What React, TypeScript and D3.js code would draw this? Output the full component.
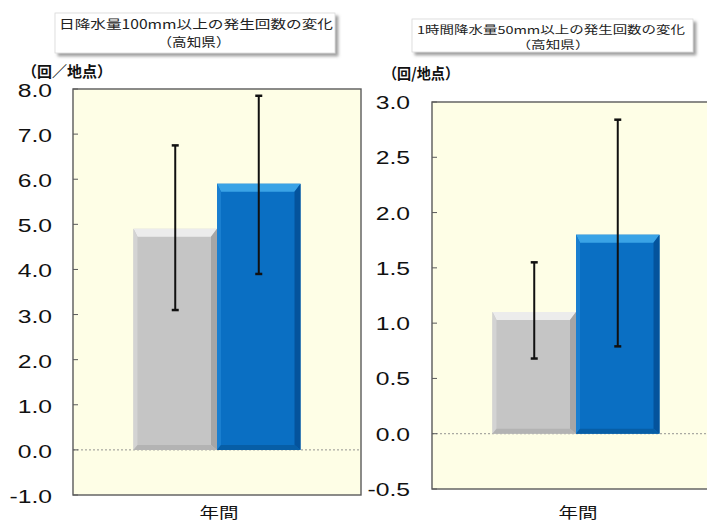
import React from 'react';
import * as d3 from 'd3';

const categories = ['年間'];
const seriesNames = ['期間A', '期間B'];

const dailyValues = [4.9, 5.9];
const dailyLow = [3.1, 3.9];
const dailyHigh = [6.75, 7.85];
const dailyTicks = [-1, 0, 1, 2, 3, 4, 5, 6, 7, 8];
const dailyTitle = ['日降水量100mm以上の発生回数の変化', '（高知県）'];
const dailyUnit = '（回／地点）';

const hourlyValues = [1.1, 1.8];
const hourlyLow = [0.68, 0.79];
const hourlyHigh = [1.55, 2.84];
const hourlyTicks = [-0.5, 0, 0.5, 1, 1.5, 2, 2.5, 3];
const hourlyTitle = ['1時間降水量50mm以上の発生回数の変化', '（高知県）'];
const hourlyUnit = '（回/地点）';

const palettes = [
  { main: '#c5c5c5', top: '#ececec', left: '#d3d3d3', right: '#a6a6a6', bottom: '#b3b3b3' },
  { main: '#0a6fc3', top: '#3aa3e6', left: '#1a7fd0', right: '#04539c', bottom: '#075ea6' },
];

const JP = '"Noto Sans CJK JP", "Noto Sans", sans-serif';
const NUM = '"Liberation Sans", Arial, sans-serif';

type PanelProps = {
  left: number; top: number; bottom: number; width: number;
  domain: [number, number]; ticks: number[];
  values: number[]; low: number[]; high: number[];
  title: string[]; box: { x: number; y: number; w: number; h: number };
  titleSize: number;
  t1: { x: number; y: number; len: number }; t2: { x: number; y: number; len: number };
  unit: string; unitPos: { x: number; y: number; len: number };
  labelRight: number; labelDy: number;
};

function Panel(p: PanelProps) {
  const y = d3.scaleLinear().domain(p.domain).range([p.bottom, p.top]);
  const x0 = d3.scaleBand().domain(categories).range([p.left, p.left + p.width]).paddingOuter(0.362).paddingInner(0);
  const x1 = d3.scaleBand().domain(seriesNames).range([0, x0.bandwidth()]);
  const cat = categories[0];
  const right = p.left + p.width;
  return (
    <g>
      <rect x={p.box.x} y={p.box.y} width={p.box.w} height={p.box.h} fill="#fff" stroke="#d8d8d8" strokeWidth={0.8} filter="url(#shadow)" />
      <text x={p.t1.x} y={p.t1.y} textAnchor="middle" fontFamily={JP} fontSize={p.titleSize} fill="#222" textLength={p.t1.len} lengthAdjust="spacingAndGlyphs">{p.title[0]}</text>
      <text x={p.t2.x} y={p.t2.y} textAnchor="middle" fontFamily={JP} fontSize={p.titleSize} fill="#222" textLength={p.t2.len} lengthAdjust="spacingAndGlyphs">{p.title[1]}</text>
      <text x={p.unitPos.x} y={p.unitPos.y} textAnchor="middle" fontFamily={JP} fontSize={15} fontWeight="bold" fill="#111" textLength={p.unitPos.len} lengthAdjust="spacingAndGlyphs">{p.unit}</text>

      <rect x={p.left} y={p.top} width={p.width} height={p.bottom - p.top} fill="#fefee6" />
      <line x1={p.left} x2={right} y1={y(0)} y2={y(0)} stroke="#888" strokeWidth={0.9} strokeDasharray="2,2" />

      {seriesNames.map((s, i) => {
        const xa = (x0(cat) as number) + (x1(s) as number);
        const w = x1.bandwidth();
        const xb = xa + w;
        const yt = y(p.values[i]);
        const yb = y(0);
        const bt = 8, bl = 4, br = 6, bb = 5;
        const c = palettes[i];
        return (
          <g key={s}>
            <rect x={xa} y={yt} width={w} height={yb - yt} fill={c.main} />
            <polygon points={`${xa},${yt} ${xb},${yt} ${xb - br},${yt + bt} ${xa + bl},${yt + bt}`} fill={c.top} />
            <polygon points={`${xa},${yt} ${xa + bl},${yt + bt} ${xa + bl},${yb - bb} ${xa},${yb}`} fill={c.left} />
            <polygon points={`${xb},${yt} ${xb},${yb} ${xb - br},${yb - bb} ${xb - br},${yt + bt}`} fill={c.right} />
            <polygon points={`${xa},${yb} ${xa + bl},${yb - bb} ${xb - br},${yb - bb} ${xb},${yb}`} fill={c.bottom} />
          </g>
        );
      })}

      {seriesNames.map((s, i) => {
        const cx = (x0(cat) as number) + (x1(s) as number) + x1.bandwidth() / 2;
        const yh = y(p.high[i]);
        const yl = y(p.low[i]);
        return (
          <g key={'e' + s} stroke="#111">
            <line x1={cx} x2={cx} y1={yh} y2={yl} strokeWidth={2} />
            <line x1={cx - 3.5} x2={cx + 3.5} y1={yh} y2={yh} strokeWidth={2.5} />
            <line x1={cx - 3.5} x2={cx + 3.5} y1={yl} y2={yl} strokeWidth={2.5} />
          </g>
        );
      })}

      <rect x={p.left} y={p.top} width={p.width} height={p.bottom - p.top} fill="none" stroke="#5a5a5a" strokeWidth={1.4} />
      {p.ticks.map(t => (
        <g key={t}>
          <line x1={p.left} x2={p.left + 5} y1={y(t)} y2={y(t)} stroke="#5a5a5a" strokeWidth={1} />
          <text transform={`translate(${p.labelRight},${y(t) + p.labelDy}) scale(1.3,1)`} textAnchor="end" fontFamily={NUM} fontSize={19} fill="#111">{t.toFixed(1)}</text>
        </g>
      ))}
      <text transform={`translate(${(x0(cat) as number) + x0.bandwidth() / 2 + 2},518) scale(1.3,1)`} textAnchor="middle" fontFamily={JP} fontSize={15} fill="#111">{cat}</text>
    </g>
  );
}

export default function App() {
  return (
    <svg width={707} height={524} style={{ position: 'absolute', left: 0, top: 0, background: '#fff' }}>
      <defs>
        <filter id="shadow" x="-5%" y="-20%" width="115%" height="160%">
          <feDropShadow dx={3} dy={3} stdDeviation={1.5} floodColor="#777" floodOpacity={0.7} />
        </filter>
      </defs>
      <rect x={0} y={0} width={707} height={524} fill="#fff" />
      <Panel
        left={73} top={89} bottom={495} width={288}
        domain={[-1, 8]} ticks={dailyTicks}
        values={dailyValues} low={dailyLow} high={dailyHigh}
        title={dailyTitle} box={{ x: 55, y: 13, w: 280, h: 40 }} titleSize={12.5}
        t1={{ x: 196, y: 29, len: 274 }} t2={{ x: 194, y: 47, len: 73 }}
        unit={dailyUnit} unitPos={{ x: 67, y: 77, len: 90 }}
        labelRight={52} labelDy={8}
      />
      <Panel
        left={432} top={102} bottom={489} width={288}
        domain={[-0.5, 3]} ticks={hourlyTicks}
        values={hourlyValues} low={hourlyLow} high={hourlyHigh}
        title={hourlyTitle} box={{ x: 412, y: 19, w: 281, h: 33 }} titleSize={11}
        t1={{ x: 551, y: 34, len: 268 }} t2={{ x: 553, y: 49, len: 73 }}
        unit={hourlyUnit} unitPos={{ x: 421, y: 79, len: 76 }}
        labelRight={410} labelDy={7}
      />
    </svg>
  );
}
